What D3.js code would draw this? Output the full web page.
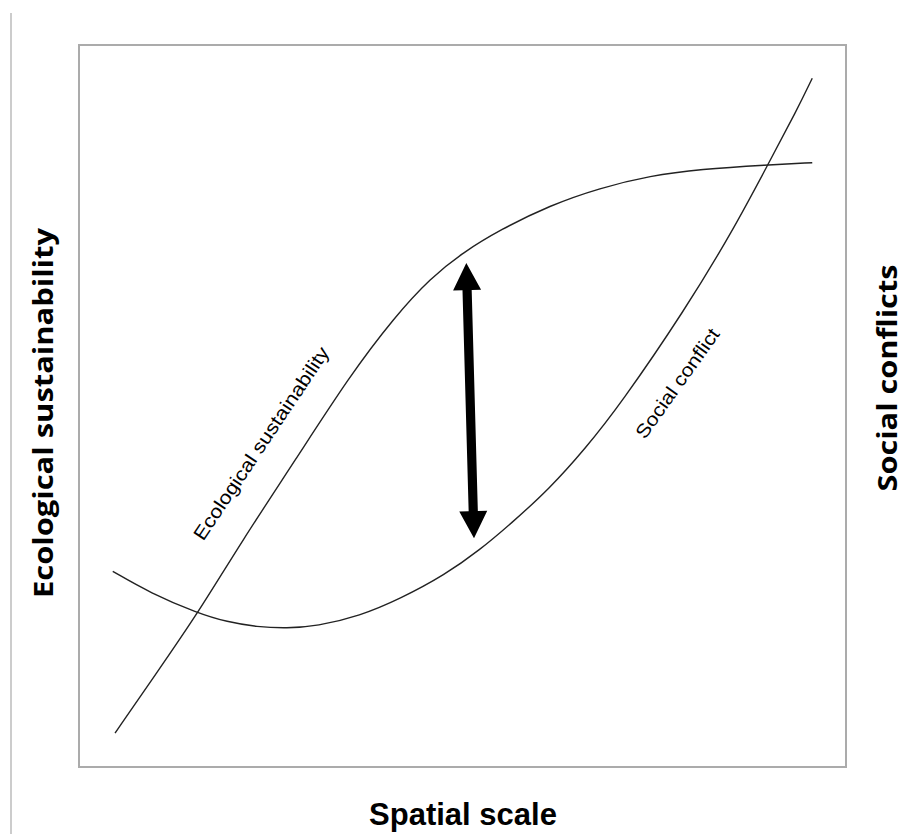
<!DOCTYPE html>
<html>
<head>
<meta charset="utf-8">
<script src="https://cdn.jsdelivr.net/npm/d3@7"></script>
<style>
  html, body { margin: 0; padding: 0; background: #fff; }
  svg { display: block; }
</style>
</head>
<body>
<svg id="chart" width="905" height="834"></svg>
<script>
// ---- data (conceptual units 0..100 on both axes) ----
const ecoX = [4.7, 9.9, 15.5, 21.3, 28.2, 35.3, 41.2, 45.8, 50.1, 54.9, 61.4, 67.9, 74.5, 81.0, 89.8, 95.6];
const ecoY = [4.7, 12.7, 21.3, 31.4, 42.5, 54.2, 62.4, 67.7, 71.3, 74.4, 77.8, 80.2, 81.9, 82.8, 83.4, 83.7];

const socX = [4.4, 9.3, 15.5, 19.3, 23.2, 27.1, 31.0, 36.6, 41.9, 47.7, 52.3, 56.2, 61.4, 66.0, 70.5, 79.0, 85.3, 89.8, 93.6, 95.6];
const socY = [27.1, 24.1, 21.3, 20.1, 19.4, 19.2, 19.5, 20.9, 23.3, 26.6, 30.1, 33.6, 38.6, 44.1, 50.1, 63.3, 74.4, 83.4, 91.0, 95.4];

const arrowX = [50.5, 51.5];   // top tip, bottom tip
const arrowY = [69.8, 31.7];

const curveLabels = ["Ecological sustainability", "Social conflict"];
const curveLabelX = [16.2, 73.8];
const curveLabelY = [31.2, 45.3];

const axisTitles = { left: "Ecological sustainability", right: "Social conflicts", bottom: "Spatial scale" };

// ---- layout ----
const svg = d3.select("#chart");
const box = { left: 79, top: 45, right: 846, bottom: 767 };

const x = d3.scaleLinear().domain([0, 100]).range([box.left, box.right]);
const y = d3.scaleLinear().domain([0, 100]).range([box.bottom, box.top]);

// thin page rule at left
svg.append("line")
  .attr("x1", 11).attr("x2", 11).attr("y1", 13).attr("y2", 834)
  .attr("stroke", "#cccccc").attr("stroke-width", 2);

// plot frame
svg.append("rect")
  .attr("x", box.left).attr("y", box.top)
  .attr("width", box.right - box.left).attr("height", box.bottom - box.top)
  .attr("fill", "none").attr("stroke", "#ababab").attr("stroke-width", 2);

const line = d3.line()
  .x(d => x(d[0])).y(d => y(d[1]))
  .curve(d3.curveBasis);

svg.append("path")
  .datum(d3.zip(ecoX, ecoY))
  .attr("d", line)
  .attr("fill", "none").attr("stroke", "#222").attr("stroke-width", 1.4);

svg.append("path")
  .datum(d3.zip(socX, socY))
  .attr("d", line)
  .attr("fill", "none").attr("stroke", "#222").attr("stroke-width", 1.4);

// double-headed arrow
(function drawArrow() {
  const x1 = x(arrowX[0]), y1 = y(arrowY[0]);
  const x2 = x(arrowX[1]), y2 = y(arrowY[1]);
  const dx = x2 - x1, dy = y2 - y1;
  const L = Math.hypot(dx, dy);
  const ux = dx / L, uy = dy / L;     // along
  const px = -uy, py = ux;            // perpendicular
  const hl = 27, hw = 14, sw = 4.6;
  const P = (t, s) => [x1 + ux * t + px * s, y1 + uy * t + py * s];
  const pts = [
    P(0, 0), P(hl, hw), P(hl, sw), P(L - hl, sw), P(L - hl, hw),
    P(L, 0), P(L - hl, -hw), P(L - hl, -sw), P(hl, -sw), P(hl, -hw)
  ];
  svg.append("polygon")
    .attr("points", pts.map(p => p.join(",")).join(" "))
    .attr("fill", "#000");
})();

// curve labels
const labelAngles = [-56.2, -54.5];
const labelLengths = [228, 130];
curveLabels.forEach((t, i) => {
  svg.append("text")
    .attr("transform", `translate(${x(curveLabelX[i])},${y(curveLabelY[i])}) rotate(${labelAngles[i]})`)
    .attr("font-family", "Liberation Sans, Arial, sans-serif")
    .attr("font-size", 19)
    .attr("textLength", labelLengths[i])
    .attr("lengthAdjust", "spacingAndGlyphs")
    .attr("fill", "#000")
    .text(t);
});

// axis titles
svg.append("text")
  .attr("transform", "translate(53,413) rotate(-90)")
  .attr("text-anchor", "middle")
  .attr("font-family", "Open Sans, sans-serif")
  .attr("font-weight", 700)
  .attr("font-size", 26)
  .attr("textLength", 370)
  .attr("lengthAdjust", "spacingAndGlyphs")
  .attr("fill", "#000")
  .text(axisTitles.left);

svg.append("text")
  .attr("transform", "translate(897,378) rotate(-90)")
  .attr("text-anchor", "middle")
  .attr("font-family", "Open Sans, sans-serif")
  .attr("font-weight", 700)
  .attr("font-size", 26)
  .attr("textLength", 227)
  .attr("lengthAdjust", "spacingAndGlyphs")
  .attr("fill", "#000")
  .text(axisTitles.right);

svg.append("text")
  .attr("x", 463).attr("y", 825)
  .attr("text-anchor", "middle")
  .attr("font-family", "Liberation Sans, Arial, sans-serif")
  .attr("font-weight", 700)
  .attr("font-size", 31)
  .attr("fill", "#000")
  .text(axisTitles.bottom);
</script>
</body>
</html>
